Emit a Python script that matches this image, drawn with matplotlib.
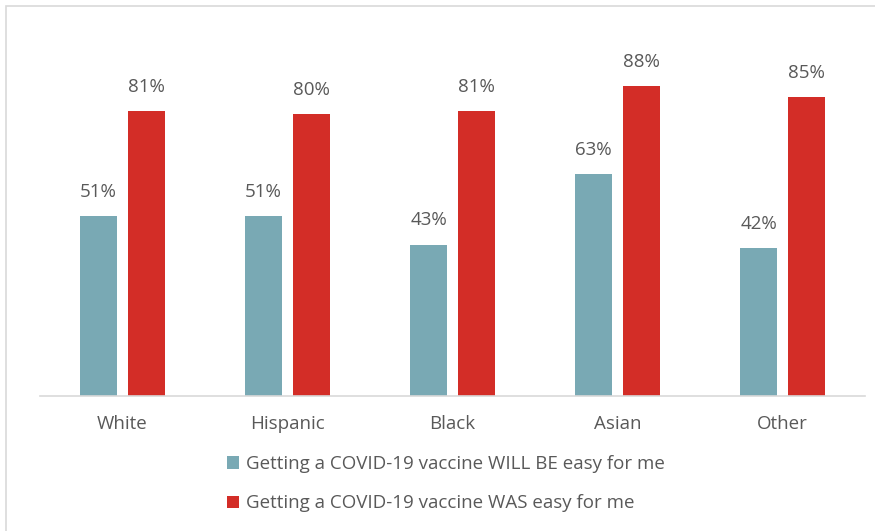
import numpy as np
import matplotlib.pyplot as plt
from matplotlib.patches import Rectangle

groups = ["White", "Hispanic", "Black", "Asian", "Other"]
will_be_easy = [51, 51, 43, 63, 42]
was_easy = [81, 80, 81, 88, 85]
series_names = [
    "Getting a COVID-19 vaccine WILL BE easy for me",
    "Getting a COVID-19 vaccine WAS easy for me",
]

teal = "#79a9b4"
red = "#d32d27"
text_gray = "#595959"

plt.rcParams["font.family"] = ["Open Sans", "DejaVu Sans"]

fig = plt.figure(figsize=(8.75, 5.31), dpi=100)
ax = fig.add_axes([0.0457, 0.2542, 0.943, 0.6629])

# light frame round the chart area
fig.patches.append(Rectangle((6 / 875, -0.05), 1.2, (525 / 531) + 0.05,
                             transform=fig.transFigure, fill=False,
                             edgecolor="#d9d9d9", linewidth=1.2))

x = np.arange(len(groups))
w = 0.224
off = 0.145
b1 = ax.bar(x - off, will_be_easy, w, color=teal, label=series_names[0])
b2 = ax.bar(x + off, was_easy, w, color=red, label=series_names[1])

for bars, vals in ((b1, will_be_easy), (b2, was_easy)):
    for rect, v in zip(bars, vals):
        ax.annotate(f"{v}%", (rect.get_x() + rect.get_width() / 2, v),
                    xytext=(0, 11), textcoords="offset points",
                    ha="center", va="bottom", fontsize=13.5, color=text_gray)

ax.set_xlim(-0.5, len(groups) - 0.5)
ax.set_ylim(0, 100)
ax.set_yticks([])
ax.set_xticks(x)
ax.set_xticklabels(groups, fontsize=13.5, color=text_gray)
ax.tick_params(axis="x", length=0, pad=14)
for side in ("top", "right", "left"):
    ax.spines[side].set_visible(False)
ax.spines["bottom"].set_color("#d9d9d9")
ax.spines["bottom"].set_linewidth(1.2)

fig.legend(handles=[b1, b2], loc="upper left", bbox_to_anchor=(0.2485, 0.161),
           frameon=False, fontsize=13.5, labelcolor=text_gray,
           handlelength=0.65, handleheight=0.65, handletextpad=0.4,
           labelspacing=1.15, borderpad=0)

fig.savefig("out.png", dpi=100, facecolor="white")
